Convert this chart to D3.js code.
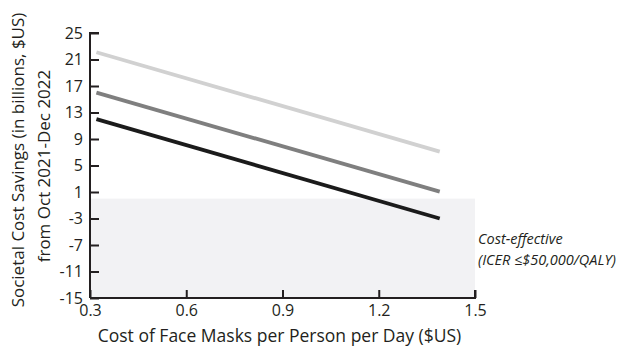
<!DOCTYPE html>
<html>
<head>
<meta charset="utf-8">
<script src="https://cdn.jsdelivr.net/npm/d3@7"></script>
<style>
  body { margin: 0; background: #fff; }
  text { font-family: "Open Sans", sans-serif; fill: #231f20; }
</style>
</head>
<body>
<svg width="618" height="350"></svg>
<script>
// cost of masks per person per day ($US)
const maskCost = [0.32, 1.39];
// societal savings (billions $US), one series per scenario
const seriesLight = [22.1, 7.1];
const seriesMid = [16.0, 1.05];
const seriesDark = [12.0, -3.0];
const yTicks = [25, 21, 17, 13, 9, 5, 1, -3, -7, -11, -15];
const xTicks = [0.3, 0.6, 0.9, 1.2, 1.5];
const threshold = 0;

const svg = d3.select("svg");

const x = d3.scaleLinear().domain([0.3, 1.5]).range([90, 475]);
const y = d3.scaleLinear().domain([-15, 25]).range([298, 33]);

// shaded cost-effective region
svg.append("rect")
    .attr("x", x(0.3))
    .attr("y", y(threshold))
    .attr("width", x(1.5) - x(0.3))
    .attr("height", y(-15) - y(threshold))
    .attr("fill", "#f2f2f4");

const line = d3.line()
    .x((d, i) => x(maskCost[i]))
    .y(d => d);

const series = [
    {vals: seriesLight, color: "#d1d1d1"},
    {vals: seriesMid, color: "#7f7f7f"},
    {vals: seriesDark, color: "#1b1b1b"}
];

series.forEach(function(s) {
    svg.append("path")
        .attr("d", line(s.vals.map(v => y(v))))
        .attr("fill", "none")
        .attr("stroke", s.color)
        .attr("stroke-width", 3.8);
});

// axes
const yAxis = svg.append("g")
    .attr("transform", `translate(${x(0.3)},0)`)
    .call(d3.axisRight(y).tickValues(yTicks).tickSize(9).tickFormat(d => String(d)));
yAxis.select(".domain").attr("d", `M9,${y(25)}H0V${y(-15)}`);
yAxis.selectAll(".tick text")
    .attr("x", -7)
    .attr("text-anchor", "end");

const xAxis = svg.append("g")
    .attr("transform", `translate(0,${y(-15)})`)
    .call(d3.axisTop(x).tickValues(xTicks).tickSize(8).tickFormat(d3.format(".1f")));
xAxis.select(".domain").attr("d", `M${x(0.3)},0H${x(1.5)}V-8`);
xAxis.selectAll(".tick text")
    .attr("y", 7)
    .attr("dy", "0.71em");

svg.selectAll(".domain, .tick line")
    .attr("stroke", "#231f20")
    .attr("stroke-width", 2);
svg.selectAll(".tick text")
    .attr("fill", "#231f20")
    .style("font-family", "'Open Sans', sans-serif")
    .style("font-size", "16px");

// axis titles
svg.append("text")
    .attr("x", (x(0.3) + x(1.5)) / 2 - 3)
    .attr("y", 342)
    .attr("text-anchor", "middle")
    .style("font-size", "17.5px")
    .text("Cost of Face Masks per Person per Day ($US)");

svg.append("text")
    .attr("transform", "translate(24,160) rotate(-90)")
    .attr("text-anchor", "middle")
    .style("font-size", "17px")
    .text("Societal Cost Savings (in billions, $US)");

svg.append("text")
    .attr("transform", "translate(50,166) rotate(-90)")
    .attr("text-anchor", "middle")
    .style("font-size", "17px")
    .text("from Oct 2021-Dec 2022");

// annotation
svg.append("text")
    .attr("x", 478)
    .attr("y", 244)
    .style("font-size", "14.5px")
    .style("font-style", "italic")
    .text("Cost-effective");
svg.append("text")
    .attr("x", 478)
    .attr("y", 265)
    .style("font-size", "14.5px")
    .style("font-style", "italic")
    .text("(ICER \u2264$50,000/QALY)");
</script>
</body>
</html>
